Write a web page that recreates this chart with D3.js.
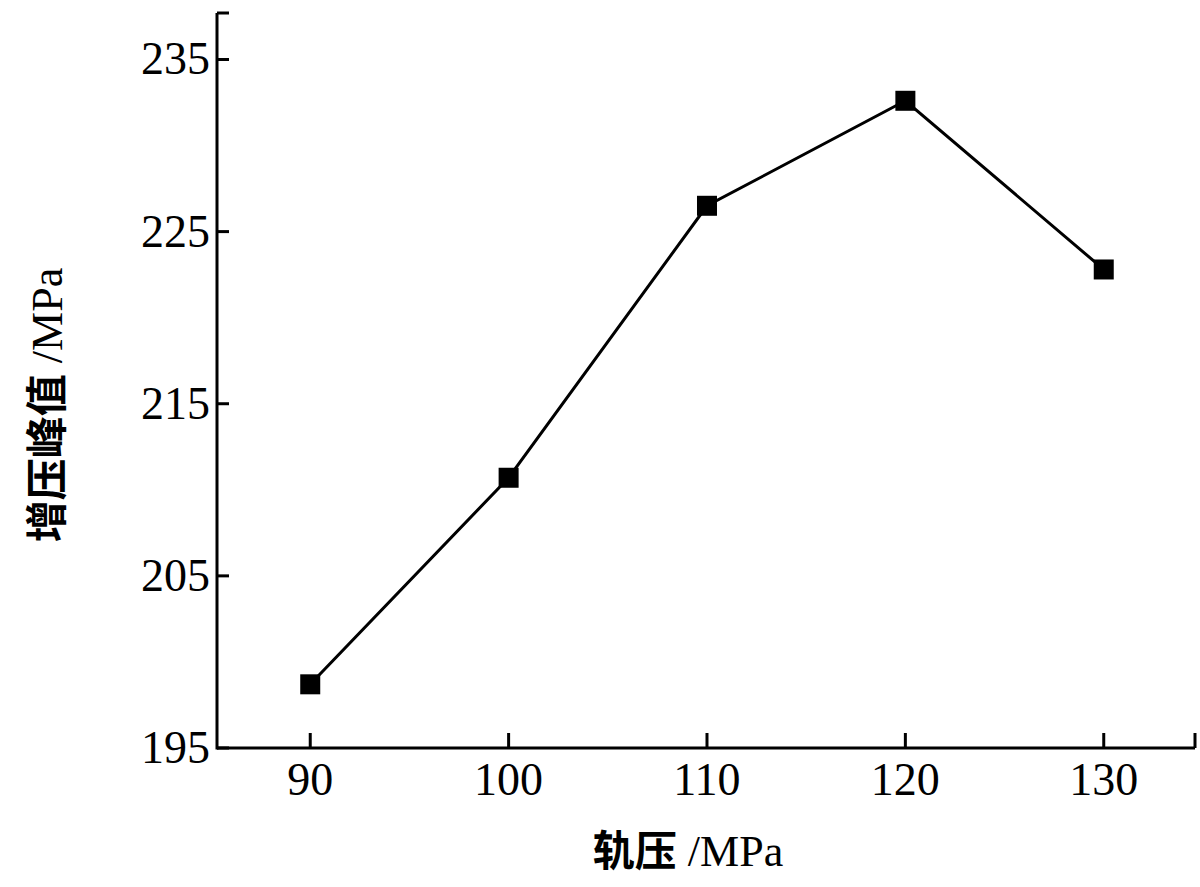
<!DOCTYPE html><html><head><meta charset="utf-8"><script src="https://d3js.org/d3.v7.min.js"></script>
<style>body{margin:0;background:#fff}</style></head><body><svg width="1200" height="887"></svg>
<script>
const xValues=[90,100,110,120,130];
const yValues=[198.7,210.7,226.5,232.6,222.8];
const yTicks=[195,205,215,225,235];
const xLabelCn="轨压", yLabelCn="增压峰值", unitLabel=" /MPa";
const svg=d3.select("svg");
const x=d3.scaleLinear().domain([85.3,134.6]).range([217,1195]);
const y=d3.scaleLinear().domain([195,237.7]).range([748,13]);
const serif="'Liberation Serif','Times New Roman',serif";
const sw=3;
const g=svg.append("g");
g.append("line").attr("x1",217).attr("x2",217).attr("y1",y(237.7)).attr("y2",y(195)+1.5).attr("stroke","#000").attr("stroke-width",sw);
g.append("line").attr("x1",217).attr("x2",1195).attr("y1",748).attr("y2",748).attr("stroke","#000").attr("stroke-width",sw);
g.append("line").attr("x1",217).attr("x2",229).attr("y1",y(237.7)).attr("y2",y(237.7)).attr("stroke","#000").attr("stroke-width",sw);
yTicks.forEach(t=>{
 g.append("line").attr("x1",217).attr("x2",229).attr("y1",y(t)).attr("y2",y(t)).attr("stroke","#000").attr("stroke-width",sw);
 g.append("text").attr("x",210).attr("y",y(t)+15).attr("text-anchor","end").attr("font-family",serif).attr("font-size",46).text(t);
});
xValues.forEach(t=>{
 g.append("line").attr("x1",x(t)).attr("x2",x(t)).attr("y1",748).attr("y2",733).attr("stroke","#000").attr("stroke-width",sw);
 g.append("text").attr("x",x(t)).attr("y",795).attr("text-anchor","middle").attr("font-family",serif).attr("font-size",46).text(t);
});
g.append("line").attr("x1",1195).attr("x2",1195).attr("y1",748).attr("y2",733).attr("stroke","#000").attr("stroke-width",sw);
const pts=xValues.map((v,i)=>[x(v),y(yValues[i])]);
g.append("path").attr("d",d3.line()(pts)).attr("fill","none").attr("stroke","#000").attr("stroke-width",sw);
g.selectAll("rect.m").data(pts).join("rect").attr("x",d=>d[0]-10).attr("y",d=>d[1]-10).attr("width",20).attr("height",20).attr("fill","#000");
function title(t,cn){
 t.attr("text-anchor","middle").attr("font-size",42);
 t.append("tspan").attr("font-family","'Noto Sans CJK SC'").attr("font-weight","bold").text(cn);
 t.append("tspan").attr("font-family",serif).attr("font-size",44).attr("xml:space","preserve").text(unitLabel);
}
title(g.append("text").attr("x",688).attr("y",866),xLabelCn);
title(g.append("text").attr("transform","translate(62,405) rotate(-90)"),yLabelCn);
</script></body></html>
